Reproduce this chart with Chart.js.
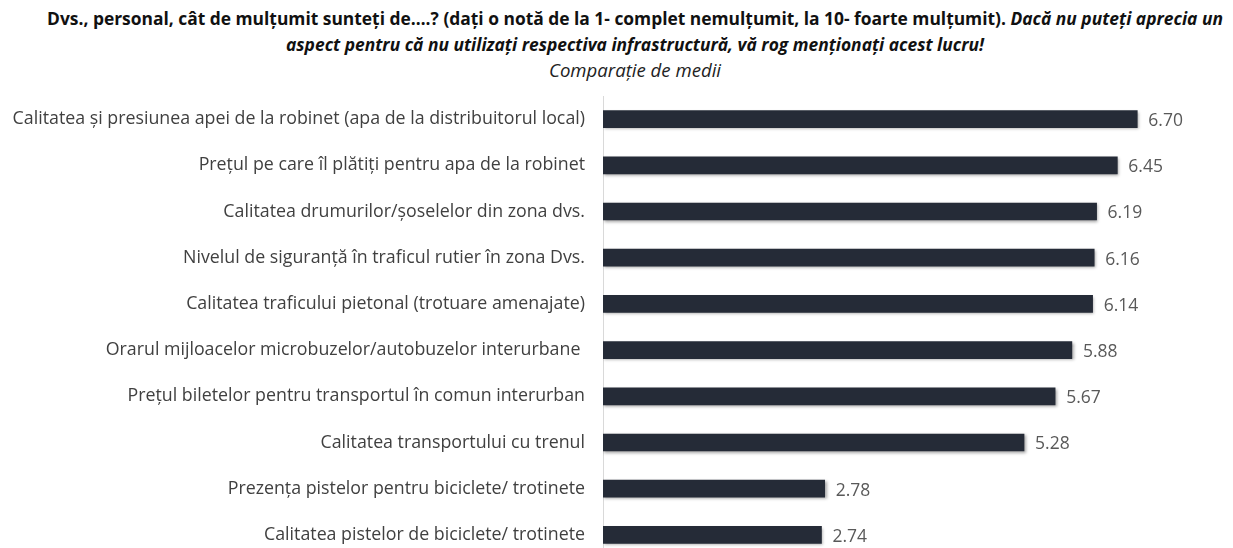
<!DOCTYPE html>
<html>
<head>
<meta charset="utf-8">
<script src="https://cdn.jsdelivr.net/npm/chart.js@4"></script>
<style>
    html, body { margin: 0; padding: 0; background: #fff; overflow: hidden; }
    body { width: 1233px; height: 548px; position: relative; }
    #title {
        position: absolute; left: 0; top: 5px; width: 1270px;
        text-align: center; font-family: "Open Sans", sans-serif; font-size: 17.4px;
        color: #111; line-height: 26px; white-space: nowrap;
    }
    #title .b { font-weight: bold; }
    #title .bi { font-weight: bold; font-style: italic; }
    #title .i { font-style: italic; color: #222; font-size: 18.6px; }
    #wrap { position: absolute; left: 0; top: 90px; width: 1233px; height: 468px; }
</style>
</head>
<body>
<div id="title">
    <div><span class="b">Dvs., personal, cât de mulțumit sunteți de….? (dați o notă de la 1- complet nemulțumit, la 10- foarte mulțumit).</span> <span class="bi">Dacă nu puteți aprecia un</span></div>
    <div class="bi">aspect pentru că nu utilizați respectiva infrastructură, vă rog menționați acest lucru!</div>
    <div class="i">Comparație de medii</div>
</div>
<div id="wrap"><canvas id="chart"></canvas></div>
<script>
const categories = [
    'Calitatea și presiunea apei de la robinet (apa de la distribuitorul local)',
    'Prețul pe care îl plătiți pentru apa de la robinet',
    'Calitatea drumurilor/șoselelor din zona dvs.',
    'Nivelul de siguranță în traficul rutier în zona Dvs.',
    'Calitatea traficului pietonal (trotuare amenajate)',
    'Orarul mijloacelor microbuzelor/autobuzelor interurbane ',
    'Prețul biletelor pentru transportul în comun interurban',
    'Calitatea transportului cu trenul',
    'Prezența pistelor pentru biciclete/ trotinete',
    'Calitatea pistelor de biciclete/ trotinete'
];
const means = [6.70, 6.45, 6.19, 6.16, 6.14, 5.88, 5.67, 5.28, 2.78, 2.74];

const barShadow = {
    id: 'barShadow',
    beforeDatasetsDraw(chart) {
        const ctx = chart.ctx;
        ctx.save();
        ctx.shadowColor = 'rgba(0,0,0,0.35)';
        ctx.shadowBlur = 3;
        ctx.shadowOffsetX = 1.5;
        ctx.shadowOffsetY = 1.5;
    },
    afterDatasetsDraw(chart) {
        chart.ctx.restore();
    }
};

const valueLabels = {
    id: 'valueLabels',
    afterDraw(chart) {
        const ctx = chart.ctx;
        const meta = chart.getDatasetMeta(0);
        ctx.save();
        ctx.font = '17.5px "Open Sans"';
        ctx.fillStyle = '#595959';
        ctx.textAlign = 'left';
        ctx.textBaseline = 'middle';
        meta.data.forEach((bar, i) => {
            ctx.fillText(means[i].toFixed(2), bar.x + 11, bar.y + 2);
        });
        ctx.restore();
    }
};

new Chart(document.getElementById('chart'), {
    type: 'bar',
    data: {
        labels: categories,
        datasets: [{
            data: means,
            backgroundColor: '#252b37',
            barThickness: 17
        }]
    },
    options: {
        indexAxis: 'y',
        responsive: true,
        maintainAspectRatio: false,
        animation: false,
        layout: { padding: { top: 6, right: 8, bottom: 0, left: 0 } },
        plugins: {
            legend: { display: false },
            tooltip: { enabled: false }
        },
        scales: {
            x: {
                display: false,
                min: 0,
                max: 7.8
            },
            y: {
                grid: { display: false },
                border: { display: true, color: '#d9d9d9', width: 1 },
                ticks: {
                    color: '#404040',
                    padding: 10,
                    font: { family: 'Open Sans', size: 17.8 }
                },
                afterFit(scale) {
                    scale.width = 603;
                    scale.paddingTop = 0;
                    scale.paddingBottom = 0;
                }
            }
        }
    },
    plugins: [barShadow, valueLabels]
});
</script>
</body>
</html>
